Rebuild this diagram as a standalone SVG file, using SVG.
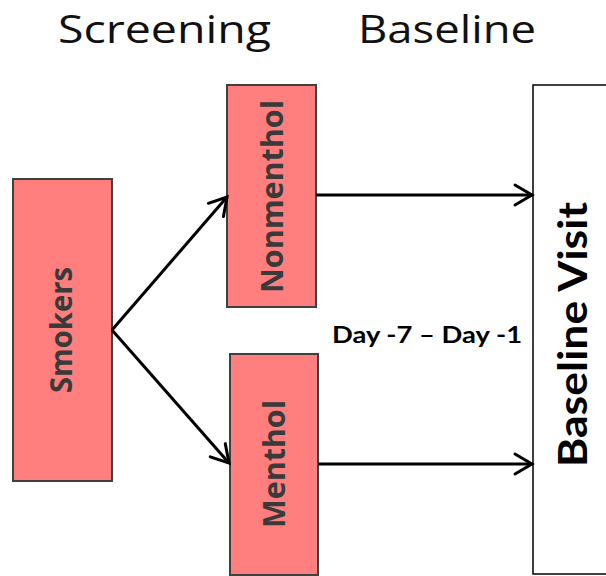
<svg xmlns="http://www.w3.org/2000/svg" width="606" height="576" viewBox="0 0 606 576">
<style>
.box{fill:#FF7F7F;stroke:#404040;stroke-width:2}
.lbl{font-family:"Open Sans","DejaVu Sans",sans-serif;font-weight:700;font-size:30px;fill:#3a3a3a;text-anchor:middle}
.head{font-family:"Open Sans","DejaVu Sans",sans-serif;font-weight:400;font-size:38px;fill:#111}
.conn{stroke:#000;stroke-width:3;fill:none}
</style>
<defs>
<marker id="arr" markerUnits="userSpaceOnUse" markerWidth="30" markerHeight="30" viewBox="0 0 30 30" refX="20" refY="15" orient="auto">
<path d="M3,5 L20,15 L3,25" fill="none" stroke="#000" stroke-width="3" stroke-linecap="round" stroke-linejoin="miter"/>
</marker>
</defs>
<rect width="606" height="576" fill="#fff"/>
<text class="head" x="58" y="43" textLength="213" lengthAdjust="spacingAndGlyphs">Screening</text>
<text class="head" x="358" y="43" textLength="178" lengthAdjust="spacingAndGlyphs">Baseline</text>
<g id="smokers">
<rect class="box" x="13" y="179" width="99" height="302"/>
<text class="lbl" transform="translate(71.5,330) rotate(-90)" textLength="126" lengthAdjust="spacingAndGlyphs">Smokers</text>
</g>
<g id="nonmenthol">
<rect class="box" x="227" y="85" width="89" height="222"/>
<text class="lbl" transform="translate(282.5,196.5) rotate(-90)" textLength="193" lengthAdjust="spacingAndGlyphs">Nonmenthol</text>
</g>
<g id="menthol">
<rect class="box" x="230" y="354" width="88" height="221"/>
<text class="lbl" transform="translate(285,464) rotate(-90)" textLength="128" lengthAdjust="spacingAndGlyphs">Menthol</text>
</g>
<g id="baseline-visit">
<rect x="533" y="85" width="80" height="489" fill="#fff" stroke="#000" stroke-width="1.5"/>
<text transform="translate(587,467) rotate(-90)" font-family="Lato,'Open Sans',sans-serif" font-weight="700" font-size="40" fill="#000" textLength="265" lengthAdjust="spacingAndGlyphs">Baseline Visit</text>
</g>
<g id="connectors">
<line class="conn" x1="112" y1="330" x2="227" y2="197" marker-end="url(#arr)"/>
<line class="conn" x1="112" y1="330" x2="229" y2="463" marker-end="url(#arr)"/>
<line class="conn" x1="316" y1="195" x2="532" y2="195" marker-end="url(#arr)"/>
<line class="conn" x1="318" y1="464" x2="532" y2="464" marker-end="url(#arr)"/>
</g>
<text x="332" y="343" font-family="Lato,'Open Sans',sans-serif" font-weight="700" font-size="23" fill="#000" textLength="190" lengthAdjust="spacingAndGlyphs">Day -7 – Day -1</text>
</svg>
